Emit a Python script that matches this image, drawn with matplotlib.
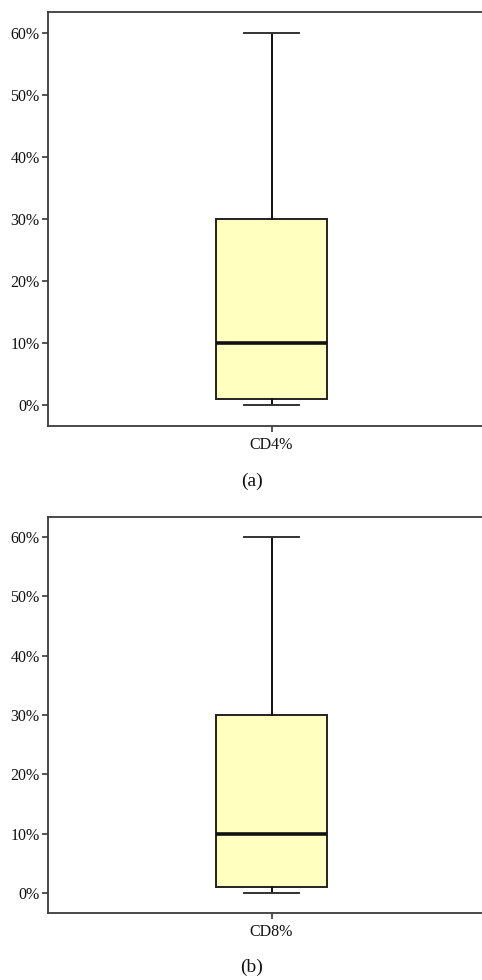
import matplotlib
matplotlib.use("Agg")
import matplotlib.pyplot as plt
from matplotlib.ticker import FuncFormatter

plt.rcParams['font.family'] = ['Liberation Serif', 'DejaVu Serif']

panels = ["(a)", "(b)"]
categories = ["CD4%", "CD8%"]
whisker_low = [0, 0]
q1 = [1, 1]
median = [10, 10]
q3 = [30, 30]
whisker_high = [60, 60]
yticks = [0, 10, 20, 30, 40, 50, 60]

W, H = 482, 980
fig = plt.figure(figsize=(W / 100, H / 100), dpi=100)

# axes rects in pixels: (left, top, bottom)
rects = [(48, 12, 426), (48, 517, 913)]
label_y = [481, 967]
right = 495

spine_c = '#3a3a3a'
for i in range(2):
    l, t, b = rects[i]
    ax = fig.add_axes([l / W, 1 - b / H, (right - l) / W, (b - t) / H])
    stats = [dict(med=median[i], q1=q1[i], q3=q3[i], whislo=whisker_low[i],
                  whishi=whisker_high[i], fliers=[], label=categories[i])]
    ax.bxp(stats, positions=[1], widths=0.248, patch_artist=True, showfliers=False,
           boxprops=dict(facecolor='#FFFFC0', edgecolor='#222222', linewidth=1.4),
           medianprops=dict(color='#111111', linewidth=2.6),
           whiskerprops=dict(color='#111111', linewidth=1.4),
           capprops=dict(color='#333333', linewidth=1.4),
           capwidths=0.123)
    ax.set_xlim(0.5, 1.5)
    ax.set_ylim(-3.4, 63.4)
    ax.set_yticks(yticks)
    ax.yaxis.set_major_formatter(FuncFormatter(lambda v, p: f"{int(v)}%"))
    for s in ['left', 'bottom', 'top', 'right']:
        ax.spines[s].set_color(spine_c)
        ax.spines[s].set_linewidth(1.3)
    ax.tick_params(axis='both', length=4, width=1.2, color=spine_c, labelsize=11.5,
                   labelcolor='#111111', pad=2)
    ax.tick_params(axis='x', pad=4)
    fig.text(252 / W, 1 - label_y[i] / H, panels[i], ha='center', va='center',
             fontsize=14, color='#111111')

fig.savefig("out.png", dpi=100)
